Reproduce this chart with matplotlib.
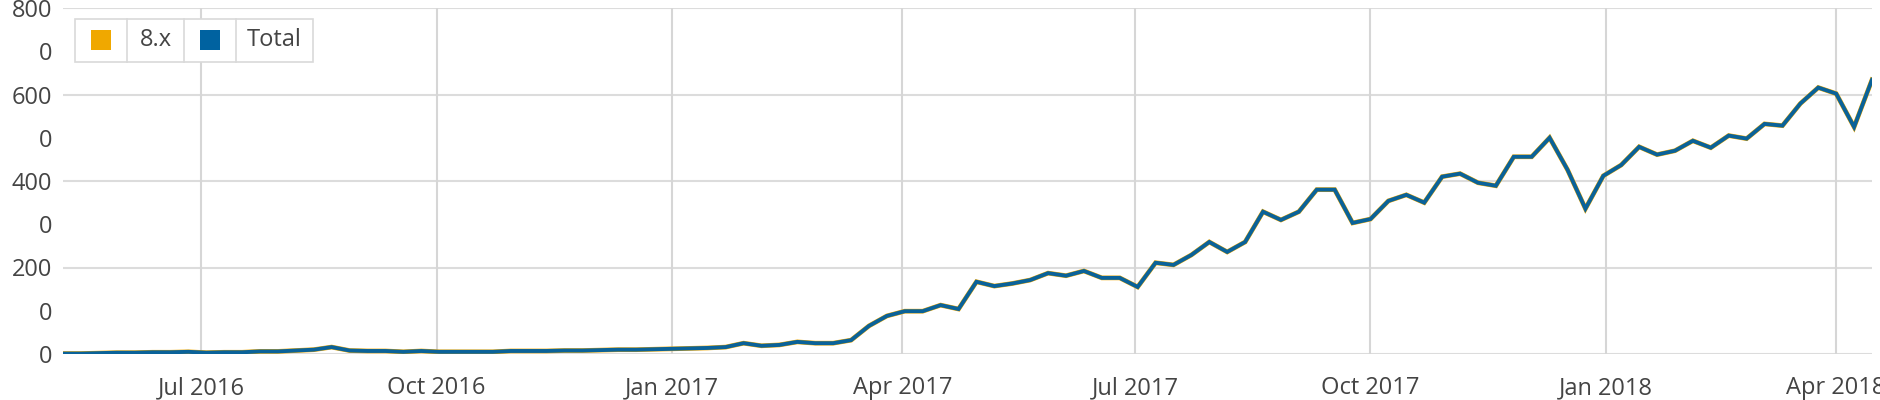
import pandas as pd
import matplotlib.pyplot as plt
import matplotlib.dates as mdates
from matplotlib.patches import Rectangle
from matplotlib.lines import Line2D

plt.rcParams['font.family'] = ['Open Sans', 'DejaVu Sans']

# Dados semanais (domingos), de maio/2016 a abril/2018
weeks = pd.date_range('2016-05-08', periods=102, freq='7D')

total = [1, 1, 2, 3, 3, 4, 4, 5, 3, 4,
         4, 6, 6, 8, 10, 16, 8, 7, 7, 5,
         7, 5, 5, 5, 5, 7, 7, 7, 8, 8,
         9, 10, 10, 11, 12, 13, 14, 16, 25, 19,
         21, 28, 25, 25, 32, 65, 88, 99, 99, 113,
         104, 167, 157, 163, 171, 187, 181, 192, 176, 176,
         155, 211, 206, 229, 259, 236, 259, 329, 310, 329,
         380, 380, 303, 312, 354, 368, 350, 410, 417, 396,
         389, 456, 456, 500, 426, 336, 412, 437, 479, 461,
         470, 493, 477, 505, 498, 532, 528, 579, 616, 602,
         525, 634]
# a série 8.x coincide com o total
v8x = list(total)

series_names = ['8.x', 'Total']
series_colors = ['#f0a800', '#0062a0']

y_ticks = [0, 100, 200, 300, 400, 500, 600, 700, 800]
y_labels = ['0', '0', '200', '0', '400', '0', '600', '0', '800']
x_ticks = ['2016-07-01', '2016-10-01', '2017-01-01', '2017-04-01',
           '2017-07-01', '2017-10-01', '2018-01-01', '2018-04-01']

fig = plt.figure(figsize=(18.8, 4), dpi=100)
ax = fig.add_axes([63 / 1880, 46 / 400, (1872 - 63) / 1880, (392 - 46) / 400 * 1.0])
ax.set_position([63 / 1880, 46 / 400, (1872 - 63) / 1880, (354 - 8) / 400])

ax.plot(weeks, v8x, color=series_colors[0], lw=3.4, solid_joinstyle='miter', zorder=3)
ax.plot(weeks, total, color='#0a6299', lw=2.8, solid_joinstyle='miter', zorder=4)

ax.set_xlim(weeks[0], weeks[-1])
ax.set_ylim(0, 800)

ax.set_yticks(y_ticks)
ax.set_yticklabels(y_labels)
ax.set_xticks(pd.to_datetime(x_ticks))
ax.xaxis.set_major_formatter(mdates.DateFormatter('%b %Y'))

ax.tick_params(axis='both', length=0, labelsize=17, colors='#444444')
ax.tick_params(axis='x', pad=16)
ax.tick_params(axis='y', pad=8)

for v in [0, 200, 400, 600, 800]:
    ax.axhline(v, color='#dcdcdc', lw=1.5, zorder=1)
for d in pd.to_datetime(x_ticks):
    ax.axvline(d, color='#d6d6d6', lw=1.5, zorder=1)

for s in ax.spines.values():
    s.set_visible(False)

# Legenda em formato de tabela
def px(x, y, w, h):
    return (x / 1880, 1 - (y + h) / 400, w / 1880, h / 400)

bx, by, bw, bh = px(75, 19, 238, 43)
fig.add_artist(Rectangle((bx, by), bw, bh, transform=fig.transFigure,
                         facecolor='white', edgecolor='#d9d9d9', lw=1.2, zorder=10))
for xd in [127, 184, 236]:
    fig.add_artist(Line2D([xd / 1880, xd / 1880], [by, by + bh], transform=fig.transFigure,
                          color='#d9d9d9', lw=1.2, zorder=11))
for xs, c in zip([91, 200], series_colors):
    sx, sy, sw, sh = px(xs, 30, 20, 20)
    fig.add_artist(Rectangle((sx, sy), sw, sh, transform=fig.transFigure,
                             facecolor=c, edgecolor='none', zorder=12))
for xt, name in zip([156, 274], series_names):
    fig.text(xt / 1880, 1 - 40 / 400, name, ha='center', va='center',
             fontsize=17, color='#444444', zorder=12)

plt.savefig('out.png', dpi=100)
print("Gráfico salvo como 'out.png'.")
